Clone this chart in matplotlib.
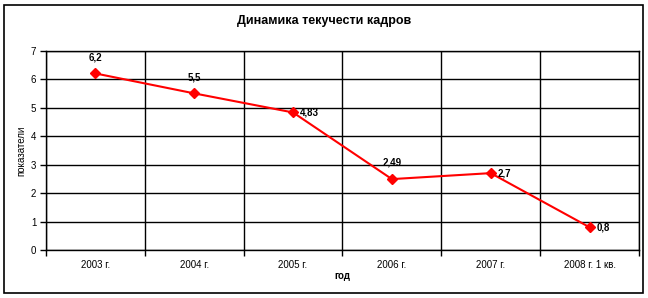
import matplotlib
matplotlib.use("Agg")
import matplotlib.pyplot as plt
from matplotlib.patches import Rectangle

plt.rcParams['font.family'] = ['Liberation Sans', 'DejaVu Sans']

years = ["2003 г.", "2004 г.", "2005 г.", "2006 г.", "2007 г.", "2008 г. 1 кв."]
values = [6.2, 5.5, 4.83, 2.49, 2.7, 0.8]
labels = ["6,2", "5,5", "4,83", "2,49", "2,7", "0,8"]
# where each data label sits relative to its point
label_pos = ["above", "above", "right", "above", "right", "right"]

fig = plt.figure(figsize=(6.48, 2.98), dpi=100)
ax = fig.add_axes([0.071, 0.161, 0.915, 0.669])

x = list(range(len(years)))
ax.plot(x, values, color="#ff0000", lw=1.5, marker="D", ms=5.5, zorder=3)

for xi, v, lab, pos in zip(x, values, labels, label_pos):
    if pos == "above":
        ax.annotate(lab, (xi, v), xytext=(0, 8), textcoords="offset points",
                    ha="center", va="bottom", fontsize=7, fontweight="bold")
    else:
        ax.annotate(lab, (xi, v), xytext=(5, 0), textcoords="offset points",
                    ha="left", va="center", fontsize=7, fontweight="bold")

ax.set_xlim(-0.5, len(years) - 0.5)
ax.set_ylim(0, 7)
ax.set_yticks(range(0, 8))
ax.set_xticks(x)
ax.set_xticklabels(years)
ax.set_xticks([i + 0.5 for i in x[:-1]] + [-0.5, len(years) - 0.5], minor=True)
ax.tick_params(axis="x", which="major", length=0, labelsize=7, pad=7)
ax.tick_params(axis="x", which="minor", length=4, width=1, direction="out")
ax.tick_params(axis="y", length=4, width=1, labelsize=7, pad=3)

ax.grid(axis="y", color="black", lw=1)
ax.grid(axis="x", which="minor", color="black", lw=1)
ax.set_axisbelow(True)
for s in ax.spines.values():
    s.set_color("black")
    s.set_linewidth(1)

ax.set_ylabel("показатели", fontsize=7, labelpad=3)
ax.set_xlabel("год", fontsize=7, fontweight="bold", labelpad=1)
fig.text(0.5, 0.93, "Динамика текучести кадров", ha="center", va="center",
         fontsize=9, fontweight="bold")

fig.patches.append(Rectangle((0.006, 0.017), 0.986, 0.966, transform=fig.transFigure,
                             fill=False, edgecolor="black", lw=1.2))

fig.savefig("out.png", dpi=100)
